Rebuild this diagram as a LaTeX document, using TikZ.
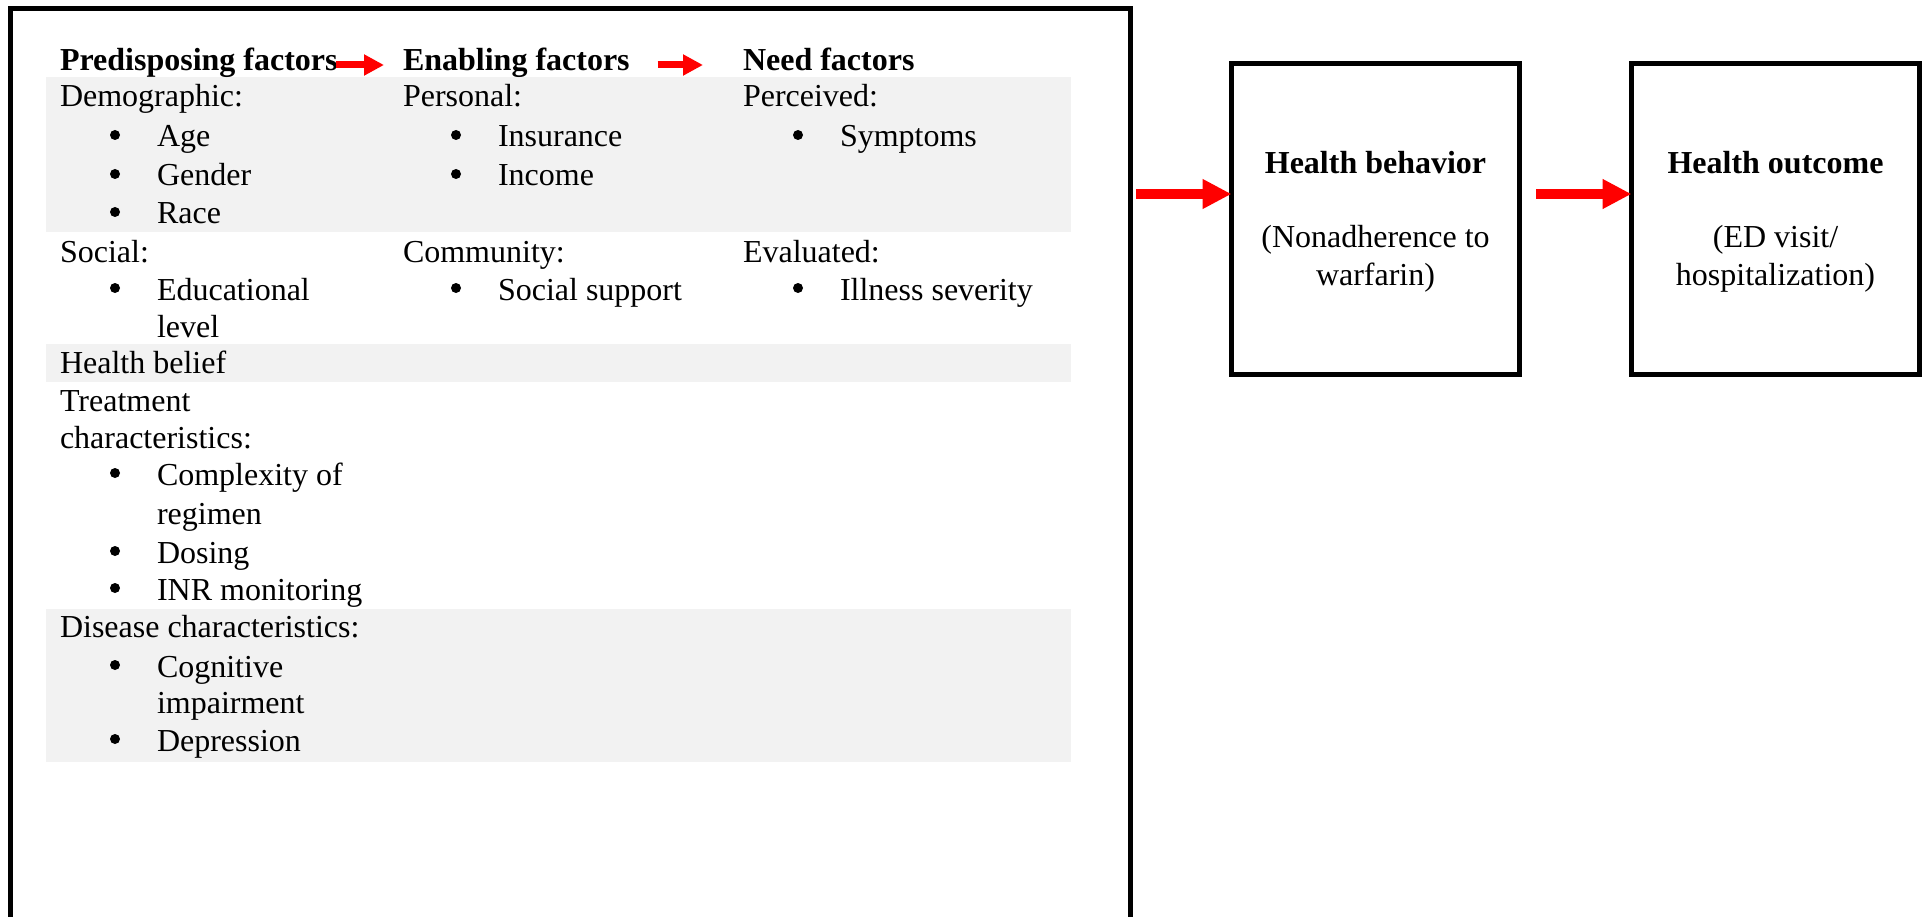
\documentclass[tikz,border=0pt]{standalone}
\usepackage{fontspec}
\setmainfont{Liberation Serif}
\usetikzlibrary{arrows.meta,calc}
\definecolor{bandgray}{HTML}{F2F2F2}
\definecolor{arrred}{HTML}{FF0000}
\newcommand\bodysize{\fontsize{32pt}{38pt}\selectfont}
\begin{document}
\begin{tikzpicture}[x=1pt,y=-1pt,
  txt/.style={anchor=base west,inner sep=0pt,outer sep=0pt,font=\bodysize},
  hdr/.style={txt,font=\bodysize\bfseries},
  ctr/.style={anchor=base,inner sep=0pt,outer sep=0pt,font=\bodysize},
  ctrb/.style={ctr,font=\bodysize\bfseries},
  bul/.style={circle,fill=black,inner sep=0pt,minimum size=10pt,yshift=12pt},
  band/.style={fill=bandgray,draw=none},
  box/.style={draw,line width=5pt,minimum width=288pt,minimum height=311pt,inner sep=0pt,outer sep=0pt},
  smallarrow/.style={draw=arrred,line width=7pt,-{Triangle[length=20pt,width=20pt]}},
  bigarrow/.style={draw=arrred,line width=10pt,-{Triangle[length=29pt,width=28pt]}}]
\path[use as bounding box,fill=white] (0,0) rectangle (1929,917);
% gray bands
\path[band] (46,77) rectangle (1071,232);
\path[band] (46,344) rectangle (1071,382);
\path[band] (46,609) rectangle (1071,762);
% frame
\node[draw,line width=5pt,minimum width=1120pt,minimum height=917pt,inner sep=0pt,outer sep=0pt,anchor=north west] (frame) at (10,8.5) {};
% headers
\node[hdr] (pred) at (60,71) {Predisposing factors};
\node[hdr] (enab) at (403,71) {Enabling factors};
\node[hdr] (need) at (743,71) {Need factors};
% column 1
\node[txt] (demo) at (60,107) {Demographic:};
\node[txt] (age) at (157,147) {Age};
\node[txt] (gender) at (157,186) {Gender};
\node[txt] (race) at (157,224) {Race};
\node[txt] (social) at (60,262) {Social:};
\node[txt] (edu) at (157,300) {Educational};
\node[txt] (level) at (157,337) {level};
\node[txt] (belief) at (60,373) {Health belief};
\node[txt] (treat) at (60,411) {Treatment};
\node[txt] (chars) at (60,448) {characteristics:};
\node[txt] (compl) at (157,485) {Complexity of};
\node[txt] (regimen) at (157,524) {regimen};
\node[txt] (dosing) at (157,563) {Dosing};
\node[txt] (inr) at (157,600) {INR monitoring};
\node[txt] (disease) at (60,637) {Disease characteristics:};
\node[txt] (cogn) at (157,677) {Cognitive};
\node[txt] (impair) at (157,713) {impairment};
\node[txt] (depr) at (157,751) {Depression};
% column 2
\node[txt] (personal) at (403,107) {Personal:};
\node[txt] (insur) at (498,147) {Insurance};
\node[txt] (income) at (498,186) {Income};
\node[txt] (commun) at (403,262) {Community:};
\node[txt] (support) at (498,300) {Social support};
% column 3
\node[txt] (perc) at (743,107) {Perceived:};
\node[txt] (sympt) at (840,147) {Symptoms};
\node[txt] (evalu) at (743,262) {Evaluated:};
\node[txt] (ill) at (840,300) {Illness severity};
% bullets
\foreach \n in {age,gender,race,edu,compl,dosing,inr,cogn,depr,insur,income,support,sympt,ill}
  \node[bul] (b-\n) at ($(\n.base west)+(-42,0)$) {};
% right boxes
\node[box] (hb) at (1375.5,219) {};
\node[box] (ho) at (1775.5,219) {};
\node[ctrb] (hbt) at (1375.5,174) {Health behavior};
\node[ctr] (hbs1) at (1375.5,248) {(Nonadherence to};
\node[ctr] (hbs2) at (1375.5,286) {warfarin)};
\node[ctrb] (hot) at (1775.5,174) {Health outcome};
\node[ctr] (hos1) at (1775.5,248) {(ED visit/};
\node[ctr] (hos2) at (1775.5,286) {hospitalization)};
% arrows
\draw[smallarrow] ($(pred.base east)+(-2,-6)$) -- ($(enab.base west)+(-19,-6)$);
\draw[smallarrow] ($(enab.base east)+(28,-6)$) -- ($(need.base west)+(-40,-6)$);
\draw[bigarrow] ($(frame.east |- hb.west)+(6,-25)$) -- ($(hb.west)+(0,-25)$);
\draw[bigarrow] ($(hb.east)+(16.5,-25)$) -- ($(ho.west)+(0,-25)$);
\end{tikzpicture}
\end{document}
